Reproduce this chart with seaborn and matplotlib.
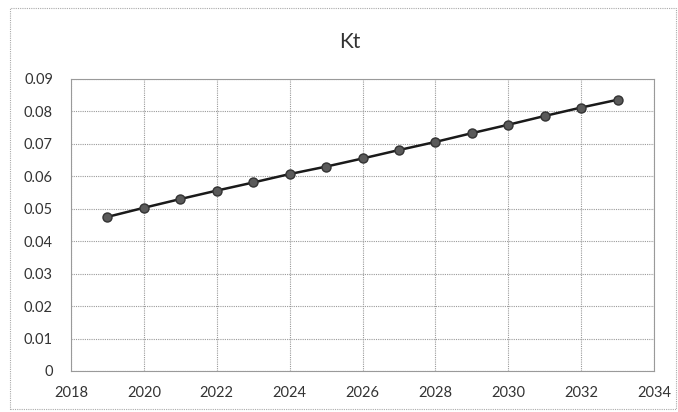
import matplotlib
matplotlib.use("Agg")
import matplotlib.pyplot as plt
from matplotlib.patches import Rectangle
import seaborn as sns
import pandas as pd

years = [2019, 2020, 2021, 2022, 2023, 2024, 2025, 2026,
         2027, 2028, 2029, 2030, 2031, 2032, 2033]
kt = [0.0475, 0.0503, 0.0530, 0.0556, 0.0581, 0.0607, 0.0630, 0.0655,
      0.0681, 0.0706, 0.0733, 0.0759, 0.0786, 0.0812, 0.0836]
x_ticks = [2018, 2020, 2022, 2024, 2026, 2028, 2030, 2032, 2034]
y_ticks = [0, 0.01, 0.02, 0.03, 0.04, 0.05, 0.06, 0.07, 0.08, 0.09]

sns.set_theme(style="white")
plt.rcParams["font.family"] = ["Lato", "DejaVu Sans"]

df = pd.DataFrame({"year": years, "Kt": kt})

fig = plt.figure(figsize=(6.78, 4.12), dpi=100)
ax = fig.add_axes([71 / 678, 1 - 371 / 412, (654 - 71) / 678, (371 - 79) / 412])

sns.lineplot(data=df, x="year", y="Kt", ax=ax, color="#1a1a1a", linewidth=1.8,
             marker="o", markersize=6.5, markerfacecolor="#5a5a5a",
             markeredgecolor="#333333", markeredgewidth=1.0)

ax.set_xlim(2018, 2034)
ax.set_ylim(0, 0.09)
ax.set_xticks(x_ticks)
ax.set_yticks(y_ticks)
ax.set_xticklabels([str(t) for t in x_ticks])
ax.set_yticklabels(["0" if t == 0 else f"{t:.2f}" for t in y_ticks])
ax.tick_params(axis="both", labelsize=10.5, colors="#333333", length=0)
ax.tick_params(axis="y", pad=13)
ax.tick_params(axis="x", pad=11)
ax.set_xlabel("")
ax.set_ylabel("")

ax.grid(True, color="#9a9a9a", linestyle=(0, (1, 1)), linewidth=0.8)
for side in ["top", "right", "bottom", "left"]:
    ax.spines[side].set_visible(True)
    ax.spines[side].set_color("#9a9a9a")
    ax.spines[side].set_linestyle((0, (1, 1)))
    ax.spines[side].set_linewidth(0.8)

fig.text(350 / 678, 1 - 42 / 412, "Kt", ha="center", va="center",
         fontsize=15, color="#333333")

# chart frame
fig.patches.append(Rectangle((10 / 678, 3 / 412), 666 / 678, 401 / 412,
                             transform=fig.transFigure, fill=False,
                             edgecolor="#aaaaaa", linestyle=(0, (1, 1)),
                             linewidth=0.8))

fig.savefig("out.png", dpi=100)
